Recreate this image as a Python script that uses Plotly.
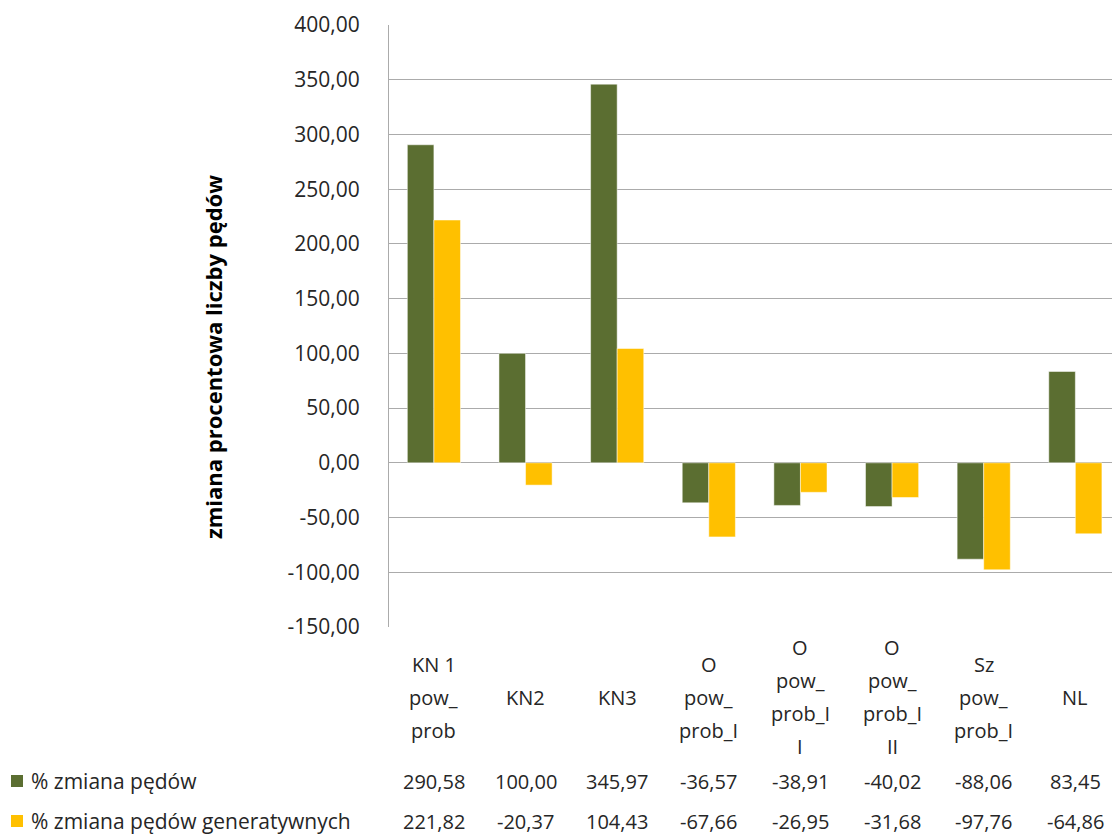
import plotly.graph_objects as go

# Categories (multi-line labels as printed in the data table header)
categories = [
    ["KN 1", "pow_", "prob"],
    ["KN2"],
    ["KN3"],
    ["O", "pow_", "prob_I"],
    ["O", "pow_", "prob_I", "I"],
    ["O", "pow_", "prob_I", "II"],
    ["Sz", "pow_", "prob_I"],
    ["NL"],
]
series_names = ["% zmiana pędów", "% zmiana pędów generatywnych"]
zmiana_pedow = [290.58, 100.00, 345.97, -36.57, -38.91, -40.02, -88.06, 83.45]
zmiana_generatywnych = [221.82, -20.37, 104.43, -67.66, -26.95, -31.68, -97.76, -64.86]
y_ticks = [-150, -100, -50, 0, 50, 100, 150, 200, 250, 300, 350, 400]

GREEN = "#5B6E31"
YELLOW = "#FFC000"
GRID = "#ABABAB"
FONT = "Open Sans"
TEXT = "#262626"

W, H = 1112, 836
L, R, T, B = 389, 0, 25, 209
PW, PH = W - L - R, H - T - B


def px_x(px):
    return (px - L) / PW


def px_y(py):
    return (H - B - py) / PH


def fmt(v):
    return f"{v:.2f}".replace(".", ",")


xs = list(range(len(categories)))

fig = go.Figure()
fig.add_bar(x=xs, y=zmiana_pedow, name=series_names[0],
            marker=dict(color=GREEN, line=dict(color="#FFFFFF", width=0.5)))
fig.add_bar(x=xs, y=zmiana_generatywnych, name=series_names[1],
            marker=dict(color=YELLOW, line=dict(color="#FFFFFF", width=0.5)))

annotations = []

# Category header of the data table: one annotation per line
line_h = 33
center_y = 697
for i, lines in enumerate(categories):
    n = len(lines)
    for k, txt in enumerate(lines):
        py = center_y + (k - (n - 1) / 2) * line_h
        annotations.append(dict(
            x=i, xref="x", y=px_y(py), yref="paper", text=txt,
            showarrow=False, xanchor="center", yanchor="middle",
            font=dict(family=FONT, size=20, color=TEXT)))

# Data table rows: legend key, series name and values
row_y = [781, 821]
for series, color, name, py in zip([zmiana_pedow, zmiana_generatywnych],
                                   [GREEN, YELLOW], series_names, row_y):
    annotations.append(dict(
        x=px_x(29), xref="paper", y=px_y(py), yref="paper", text=name,
        showarrow=False, xanchor="left", yanchor="middle",
        font=dict(family=FONT, size=21, color=TEXT)))
    fig.add_shape(type="rect", xref="paper", yref="paper",
                  x0=px_x(11), x1=px_x(23), y0=px_y(py + 6), y1=px_y(py - 6),
                  fillcolor=color, line=dict(width=0))
    for i, v in enumerate(series):
        annotations.append(dict(
            x=i, xref="x", y=px_y(py), yref="paper", text=fmt(v),
            showarrow=False, xanchor="center", yanchor="middle",
            font=dict(family=FONT, size=20, color=TEXT)))

# Vertical axis title
annotations.append(dict(
    x=px_x(213), xref="paper", y=px_y(357), yref="paper",
    text="<b>zmiana procentowa liczby pędów</b>", textangle=-90,
    showarrow=False, xanchor="center", yanchor="middle",
    font=dict(family=FONT, size=22, color="#000000")))

fig.update_layout(
    width=W, height=H,
    margin=dict(l=L, r=R, t=T, b=B, autoexpand=False),
    paper_bgcolor="white", plot_bgcolor="white",
    barmode="group", bargap=0.42, bargroupgap=0,
    showlegend=False,
    annotations=annotations,
    font=dict(family=FONT, size=20, color=TEXT),
)
fig.update_xaxes(range=[-0.49, 7.40], showticklabels=False, showgrid=False,
                 zeroline=False, showline=False, ticks="")
fig.update_yaxes(range=[-150, 400], tickvals=y_ticks,
                 ticktext=[fmt(v) for v in y_ticks],
                 showgrid=True, gridcolor=GRID, gridwidth=1,
                 zeroline=True, zerolinecolor=GRID, zerolinewidth=1,
                 showline=True, linecolor=GRID, linewidth=1,
                 ticks="", ticklabelstandoff=24,
                 tickfont=dict(family=FONT, size=21, color=TEXT))

fig.write_html("out.html")
